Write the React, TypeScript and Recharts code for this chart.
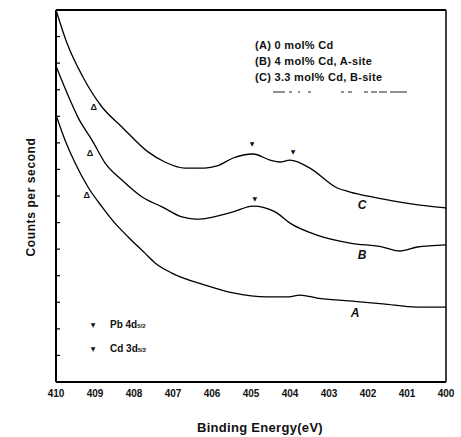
import React from 'react';
import { LineChart, Line, XAxis, YAxis, ReferenceLine, ReferenceDot } from 'recharts';

// Binding energy (eV) and counts (arbitrary units) for each curve
const curveC = [
  { E: 410.0, v: 14.0 }, { E: 409.72, v: 12.76 }, { E: 409.31, v: 11.48 }, { E: 408.82, v: 10.35 },
  { E: 408.31, v: 9.6 }, { E: 407.64, v: 8.66 }, { E: 407.21, v: 8.28 }, { E: 406.69, v: 8.05 },
  { E: 406.18, v: 8.05 }, { E: 405.87, v: 8.13 }, { E: 405.46, v: 8.43 }, { E: 404.95, v: 8.58 },
  { E: 404.51, v: 8.35 }, { E: 404.26, v: 8.28 }, { E: 404.0, v: 8.35 }, { E: 403.49, v: 8.05 },
  { E: 402.79, v: 7.3 }, { E: 402.46, v: 7.15 }, { E: 401.87, v: 6.96 }, { E: 401.18, v: 6.77 },
  { E: 400.67, v: 6.66 }, { E: 400.0, v: 6.55 },
];
const curveB = [
  { E: 410.0, v: 11.89 }, { E: 409.64, v: 10.61 }, { E: 409.44, v: 9.97 }, { E: 409.08, v: 9.11 },
  { E: 408.74, v: 8.24 }, { E: 408.31, v: 7.6 }, { E: 407.79, v: 6.96 }, { E: 407.28, v: 6.59 },
  { E: 406.77, v: 6.21 }, { E: 406.44, v: 6.13 }, { E: 406.18, v: 6.15 }, { E: 405.46, v: 6.4 },
  { E: 404.95, v: 6.62 }, { E: 404.38, v: 6.4 }, { E: 404.0, v: 5.98 }, { E: 403.31, v: 5.53 },
  { E: 402.46, v: 5.23 }, { E: 401.62, v: 5.08 }, { E: 401.18, v: 4.93 }, { E: 400.74, v: 5.08 },
  { E: 400.0, v: 5.16 },
];
const curveA = [
  { E: 410.0, v: 10.05 }, { E: 409.77, v: 9.11 }, { E: 409.51, v: 8.24 }, { E: 409.18, v: 7.34 },
  { E: 408.82, v: 6.59 }, { E: 408.49, v: 5.98 }, { E: 408.15, v: 5.46 }, { E: 407.72, v: 4.85 },
  { E: 407.46, v: 4.48 }, { E: 407.03, v: 4.1 }, { E: 406.18, v: 3.65 }, { E: 405.46, v: 3.35 },
  { E: 404.59, v: 3.2 }, { E: 404.08, v: 3.2 }, { E: 403.74, v: 3.27 }, { E: 403.31, v: 3.16 },
  { E: 402.46, v: 3.05 }, { E: 401.62, v: 2.94 }, { E: 400.74, v: 2.82 }, { E: 400.0, v: 2.82 },
];

const xTicks = [410, 409, 408, 407, 406, 405, 404, 403, 402, 401, 400];
const yTicks = [1, 2, 3, 4, 5, 6, 7, 8, 9, 10, 11, 12, 13];

const curveLabels = [
  { E: 402.15, v: 6.66, t: 'C' },
  { E: 402.15, v: 4.78, t: 'B' },
  { E: 402.33, v: 2.6, t: 'A' },
];
const deltaMarks = [
  { E: 409.03, v: 10.35 },
  { E: 409.13, v: 8.62 },
  { E: 409.21, v: 7.04 },
];
const peakMarks = [
  { E: 404.97, v: 8.99 },
  { E: 403.92, v: 8.66 },
  { E: 404.9, v: 6.92 },
];

const legendLines = ['(A) 0 mol% Cd', '(B) 4 mol% Cd, A-site', '(C) 3.3 mol% Cd, B-site'];

const FONT = 'Liberation Sans, Arial, sans-serif';
const INK = '#111';

export default function App() {
  return (
    <div style={{ position: 'absolute', left: 0, top: 0, width: 461, height: 437, background: '#fff' }}>
      <LineChart width={461} height={437} margin={{ top: 10, right: 15, bottom: 0, left: 54 }}>
        <XAxis
          type="number"
          dataKey="E"
          domain={[400, 410]}
          reversed
          ticks={xTicks}
          allowDataOverflow
          tickLine={false}
          axisLine={{ stroke: '#000', strokeWidth: 2 }}
          tick={{ fill: INK, fontSize: 10, fontFamily: FONT, fontWeight: 'bold' }}
          height={55}
        />
        <YAxis
          type="number"
          domain={[0, 14]}
          ticks={yTicks}
          width={2}
          tickSize={-4}
          tickMargin={0}
          tickFormatter={() => ''}
          tickLine={{ stroke: '#000', strokeWidth: 1.2 }}
          axisLine={{ stroke: '#000', strokeWidth: 2 }}
        />
        <ReferenceLine y={14} stroke="#000" strokeWidth={2} />
        <ReferenceLine x={400} stroke="#000" strokeWidth={1.5} />
        <Line data={curveC} dataKey="v" type="monotone" stroke="#000" strokeWidth={1.3} dot={false} isAnimationActive={false} />
        <Line data={curveB} dataKey="v" type="monotone" stroke="#000" strokeWidth={1.3} dot={false} isAnimationActive={false} />
        <Line data={curveA} dataKey="v" type="monotone" stroke="#000" strokeWidth={1.3} dot={false} isAnimationActive={false} />
        {curveLabels.map((c) => (
          <ReferenceDot
            key={c.t}
            x={c.E}
            y={c.v}
            r={0}
            shape={(p: any) => (
              <text x={p.cx} y={p.cy} textAnchor="middle" dominantBaseline="central" fontSize={12} fontStyle="italic" fontWeight="bold" fontFamily={FONT} fill={INK}>
                {c.t}
              </text>
            )}
          />
        ))}
        {deltaMarks.map((d, i) => (
          <ReferenceDot
            key={'d' + i}
            x={d.E}
            y={d.v}
            r={0}
            shape={(p: any) => (
              <text x={p.cx} y={p.cy} textAnchor="middle" dominantBaseline="central" fontSize={9} fontWeight="bold" fontFamily={FONT} fill={INK}>
                Δ
              </text>
            )}
          />
        ))}
        {peakMarks.map((d, i) => (
          <ReferenceDot
            key={'p' + i}
            x={d.E}
            y={d.v}
            r={0}
            shape={(p: any) => (
              <text x={p.cx} y={p.cy} textAnchor="middle" dominantBaseline="central" fontSize={6} fontFamily="DejaVu Sans" fill={INK}>
                ▼
              </text>
            )}
          />
        ))}
      </LineChart>
      <svg width={461} height={437} style={{ position: 'absolute', left: 0, top: 0, pointerEvents: 'none' }}>
        {legendLines.map((t, i) => (
          <text key={t} x={255} y={45 + i * 16} dominantBaseline="central" fontSize={11} fontWeight="bold" fontFamily={FONT} fill={INK} letterSpacing={0.3}>
            {t}
          </text>
        ))}
        <line x1={273} y1={92} x2={407} y2={92} stroke="#222" strokeWidth={1.2} strokeDasharray="12 4 3 6 2 8 3 30 3 4 4" />
        <text x={93} y={324} textAnchor="middle" dominantBaseline="central" fontSize={6} fontFamily="DejaVu Sans" fill={INK}>▼</text>
        <text x={110} y={324} dominantBaseline="central" fontSize={10} fontWeight="bold" fontFamily={FONT} fill={INK}>
          Pb  4d<tspan fontSize={6} dy={2}>5/2</tspan>
        </text>
        <text x={93} y={348} textAnchor="middle" dominantBaseline="central" fontSize={6} fontFamily="DejaVu Sans" fill={INK}>▼</text>
        <text x={110} y={348} dominantBaseline="central" fontSize={10} fontWeight="bold" fontFamily={FONT} fill={INK}>
          Cd  3d<tspan fontSize={6} dy={2}>5/2</tspan>
        </text>
        <text x={260} y={427} textAnchor="middle" dominantBaseline="central" fontSize={13} fontWeight="bold" fontFamily={FONT} fill={INK} letterSpacing={0.3}>
          Binding  Energy(eV)
        </text>
        <text
          x={31}
          y={197}
          textAnchor="middle"
          dominantBaseline="central"
          fontSize={12}
          fontWeight="bold"
          fontFamily={FONT}
          fill={INK}
          letterSpacing={0.6}
          transform="rotate(-90 31 197)"
        >
          Counts  per  second
        </text>
      </svg>
    </div>
  );
}
